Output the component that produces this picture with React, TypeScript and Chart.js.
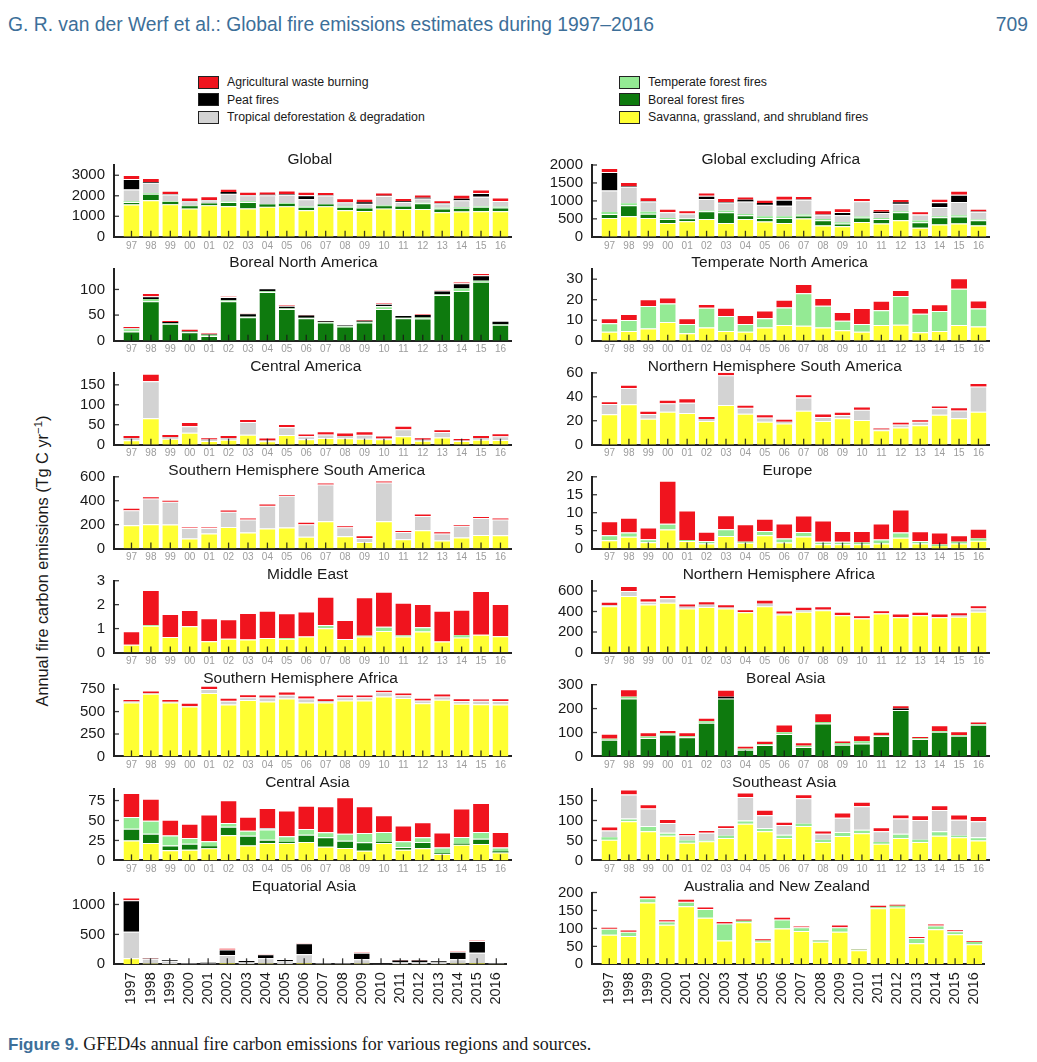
import React, { useEffect, useRef } from "react";
import { Chart, registerables } from "chart.js";
Chart.register(...registerables);

const YEARS = [1997, 1998, 1999, 2000, 2001, 2002, 2003, 2004, 2005, 2006, 2007, 2008, 2009, 2010, 2011, 2012, 2013, 2014, 2015, 2016];

// ---- Global ----
const GLO_SAV = [1570, 1780, 1590, 1380, 1540, 1490, 1380, 1460, 1490, 1300, 1490, 1300, 1260, 1380, 1350, 1350, 1200, 1230, 1250, 1250];
const GLO_BOR = [130, 320, 110, 110, 80, 210, 320, 110, 110, 160, 80, 160, 110, 110, 110, 280, 180, 190, 210, 180];
const GLO_TEM = [30, 30, 20, 20, 20, 20, 30, 30, 30, 30, 30, 30, 30, 30, 30, 30, 40, 30, 30, 30];
const GLO_TROP = [570, 510, 340, 220, 140, 380, 290, 420, 420, 340, 410, 200, 210, 470, 210, 210, 200, 330, 460, 280];
const GLO_PEAT = [520, 30, 10, 10, 10, 80, 20, 30, 20, 190, 10, 10, 80, 10, 30, 30, 10, 80, 190, 10];
const GLO_AGRI = [190, 200, 180, 180, 190, 160, 160, 160, 190, 180, 160, 180, 160, 160, 160, 160, 150, 190, 160, 160];

// ---- Global excluding Africa ----
const GEA_SAV = [525, 570, 525, 387, 433, 498, 387, 498, 424, 387, 507, 313, 295, 415, 369, 461, 249, 341, 369, 313];
const GEA_BOR = [110, 310, 120, 110, 83, 212, 295, 101, 101, 138, 83, 147, 74, 120, 129, 221, 157, 203, 194, 147];
const GEA_TEM = [55, 55, 55, 28, 10, 20, 46, 37, 46, 46, 28, 37, 37, 28, 28, 28, 46, 28, 37, 20];
const GEA_TROP = [600, 460, 285, 157, 120, 323, 230, 350, 323, 295, 415, 120, 194, 424, 138, 212, 166, 258, 369, 221];
const GEA_PEAT = [516, 10, 5, 5, 5, 92, 10, 46, 46, 166, 5, 5, 92, 5, 37, 37, 5, 129, 203, 5];
const GEA_AGRI = [110, 120, 110, 92, 92, 92, 110, 92, 92, 110, 101, 120, 101, 92, 74, 92, 92, 101, 110, 74];

// ---- Boreal North America ----
const BNA_BOR = [18, 77, 33, 16.5, 9, 77, 46, 95, 62, 44, 35.5, 27.6, 35.5, 62, 44, 43.4, 89, 97, 115, 31];
const BNA_TEM = [6.5, 4.6, 1.3, 1, 2.6, 1.5, 1, 1.3, 1, 1, 1, 1, 1.3, 5, 1, 2, 1, 4.6, 2, 1.3];
const BNA_PEAT = [0.5, 5.3, 2, 1, 1, 6.6, 6.6, 4, 5, 4, 1.5, 1, 2, 5, 3, 4.6, 8, 10.5, 10.5, 4.6];
const BNA_AGRI = [2, 4, 2, 3, 1.3, 0.5, 0.5, 0.3, 1, 0.5, 0.3, 0.3, 1, 1, 0.3, 1, 0.3, 1.3, 2.6, 0.3];

// ---- Temperate North America ----
const TNA_SAV = [4.4, 4.7, 6, 9.1, 3.6, 6.5, 4.7, 4.4, 6.5, 7.7, 7.3, 6.4, 5.1, 4.4, 7.7, 7.8, 4.1, 4.7, 7.7, 6.9];
const TNA_TEM = [4.1, 5.4, 10.9, 9.1, 4.6, 9.6, 7.3, 3.8, 4.4, 8.5, 15.8, 10.6, 4.7, 3.8, 7.2, 14, 9, 9.8, 17.6, 8.8];
const TNA_AGRI = [2.4, 2.9, 3.3, 2.9, 2.8, 1.8, 4.1, 4.4, 3.8, 3.8, 4.6, 3.8, 4.2, 7.7, 4.6, 2.9, 2.8, 3.3, 5.2, 3.9];

// ---- Central America ----
const CAM_SAV = [11, 66, 15, 30, 9, 12, 25, 8.4, 24.5, 13.5, 17, 16, 15, 13.5, 21, 10, 17.7, 9, 12.6, 11.8];
const CAM_TROP = [6, 93, 4, 16, 4, 5, 32, 2, 19.4, 7.6, 8.4, 6, 10, 1.7, 17.7, 2.5, 14.3, 1.7, 4.2, 9.3];
const CAM_AGRI = [5, 18.5, 5, 11, 3, 5, 7.6, 5, 7.6, 6.7, 6, 6, 6, 5, 6, 3.4, 6.7, 3.4, 5, 5];

// ---- Northern Hemisphere South America ----
const NHSA_SAV = [25.4, 33.8, 21.7, 27.6, 26.5, 19.7, 33.2, 25.9, 19.2, 17.7, 28.4, 19.7, 22, 20.6, 12.1, 14.4, 16.3, 25, 22, 27.6];
const NHSA_TROP = [8.5, 13.5, 3.9, 7, 8.5, 1.7, 24.8, 5, 3.4, 1.4, 11, 3.4, 2.8, 8.5, 0.5, 2.5, 2.8, 5.4, 6.5, 21.1];
const NHSA_AGRI = [2.3, 2.8, 2, 2, 3.7, 1.7, 2, 1.7, 2, 1.7, 2.8, 2, 2.8, 2, 0.8, 1.4, 1.4, 2.3, 2, 2];

// ---- Southern Hemisphere South America ----
const SHSA_SAV = [195, 204, 201, 84, 126, 181, 134, 167, 176, 98, 229, 103, 56, 229, 78, 153, 67, 92, 114, 112];
const SHSA_TROP = [126, 215, 190, 89, 47, 126, 109, 190, 265, 106, 307, 75, 33, 324, 61, 120, 59, 98, 142, 131];
const SHSA_AGRI = [11, 11, 8, 3, 3, 11, 8, 11, 6, 11, 8, 8, 14, 8, 8, 11, 11, 8, 8, 8];

// ---- Europe ----
const EUR_SAV = [2.3, 3.3, 1.8, 5.3, 2.1, 1.4, 3.5, 1.6, 3.7, 1.7, 3.4, 1.2, 1.2, 1.2, 1.4, 3, 1.4, 0.65, 1.4, 2.2];
const EUR_TEM = [1.4, 1.2, 0.8, 1.6, 0.3, 0.7, 1.9, 0.3, 1.2, 1.1, 1.2, 0.7, 0.7, 0.5, 1.1, 1.5, 0.7, 0.5, 0.5, 0.6];
const EUR_AGRI = [3.9, 4.1, 3.3, 12, 8.2, 2.6, 3.9, 4.9, 3.4, 4.2, 4.6, 5.9, 3, 3.2, 4.5, 6.4, 2.7, 3.3, 1.8, 2.7];

// ---- Middle East ----
const MDE_SAV = [0.32, 1.12, 0.65, 1.1, 0.47, 0.58, 0.54, 0.61, 0.58, 0.67, 1.01, 0.57, 0.67, 0.9, 0.67, 0.875, 0.46, 0.625, 0.74, 0.68];
const MDE_TEM = [0, 0.03, 0, 0, 0, 0, 0, 0, 0.03, 0, 0.14, 0, 0.03, 0.18, 0.04, 0.18, 0, 0.1, 0, 0];
const MDE_AGRI = [0.57, 1.46, 0.96, 0.68, 0.96, 0.81, 1.11, 1.14, 1.03, 1.04, 1.18, 0.79, 1.61, 1.46, 1.37, 0.97, 1.29, 1.06, 1.83, 1.35];

// ---- Northern Hemisphere Africa ----
const NHAF_SAV = [452, 551, 469, 485, 430, 443, 430, 393, 452, 370, 397, 413, 364, 331, 380, 344, 364, 344, 348, 397];
const NHAF_TROP = [10, 49, 26, 43, 16, 23, 10, 3, 23, 7, 16, 3, 3, 3, 3, 3, 3, 3, 13, 33];
const NHAF_AGRI = [33, 49, 33, 33, 33, 33, 20, 26, 39, 33, 33, 36, 30, 30, 30, 23, 30, 23, 23, 30];

// ---- Southern Hemisphere Africa ----
const SHAF_SAV = [602, 698, 602, 557, 706, 580, 628, 613, 646, 602, 602, 624, 624, 669, 650, 594, 632, 587, 583, 580];
const SHAF_TROP = [11, 7, 7, 4, 45, 41, 33, 45, 41, 45, 15, 37, 37, 45, 33, 30, 37, 30, 37, 37];
const SHAF_AGRI = [15, 19, 19, 26, 26, 22, 22, 22, 26, 22, 19, 19, 19, 19, 19, 19, 22, 19, 15, 19];

// ---- Boreal Asia ----
const BAS_BOR = [70, 242, 77, 92, 80, 141, 242, 28, 48, 94, 39, 138, 49, 54, 85, 194, 73, 103, 87, 132];
const BAS_TEM = [4, 7, 6, 4, 4, 6, 0, 4, 3, 7, 6, 6, 7, 10, 3, 0, 3, 3, 3, 3];
const BAS_PEAT = [0, 0, 0, 0, 0, 0, 7, 0, 0, 0, 0, 0, 0, 0, 0, 6, 0, 0, 0, 0];
const BAS_AGRI = [21, 32, 18, 14, 17, 15, 30, 13, 15, 32, 14, 37, 11, 25, 15, 14, 5, 24, 15, 11];

// ---- Central Asia ----
const CAS_SAV = [25, 21.8, 12.6, 13.4, 15.1, 31.4, 18.8, 21.8, 21.8, 23, 17.2, 15.5, 12.1, 21.8, 13.4, 15.1, 8, 19.7, 20.5, 10];
const CAS_BOR = [14.7, 11.7, 5.9, 7.5, 2.5, 10.9, 12.1, 4.2, 1.7, 9.2, 11.7, 9.2, 10.5, 1.7, 3.4, 8, 0.8, 1.3, 6.7, 1.3];
const CAS_TEM = [14.7, 16.3, 12.6, 7.1, 6.3, 4.6, 6.3, 12.6, 6.7, 7.1, 6.3, 8.8, 11.7, 12.1, 7.1, 5.9, 7.5, 8.4, 8.4, 5];
const CAS_TROP = [0, 0, 0, 0, 0, 0, 0, 2, 0, 0, 0, 0, 0, 0, 0, 0, 0, 0, 0, 0];
const CAS_AGRI = [30, 27.6, 19.7, 18, 33.5, 28.5, 17.6, 25, 32.2, 29.3, 32.7, 45.6, 33.5, 20.9, 19.7, 18.8, 18.8, 35.6, 36.4, 19.3];

// ---- Southeast Asia ----
const SEA_SAV = [52, 98, 73, 62, 44, 48, 56, 92, 73, 56, 86, 46, 61, 68, 42, 56, 46, 62, 58, 50];
const SEA_TEM = [6, 7, 13, 7, 6, 2, 6, 8, 8, 8, 6, 6, 10, 9, 4, 11, 6, 11, 4, 8];
const SEA_TROP = [17, 60, 44, 25, 13, 19, 19, 59, 32, 25, 64, 15, 36, 59, 27, 38, 49, 53, 40, 40];
const SEA_AGRI = [10, 13, 11, 10, 3, 7, 7, 11, 14, 8, 10, 8, 13, 11, 10, 10, 12, 12, 13, 13];

// ---- Equatorial Asia ----
const EQA_SAV = [100, 8, 5, 3, 3, 15, 5, 10, 5, 15, 5, 5, 10, 2, 5, 5, 5, 10, 15, 5];
const EQA_TROP = [444, 85, 55, 10, 10, 140, 30, 90, 45, 152, 10, 10, 75, 3, 35, 35, 30, 73, 180, 10];
const EQA_PEAT = [528, 5, 10, 2, 12, 94, 20, 67, 20, 183, 0, 0, 110, 0, 25, 25, 15, 128, 194, 5];
const EQA_AGRI = [28, 5, 2, 0, 0, 10, 0, 5, 3, 5, 0, 0, 3, 0, 2, 2, 0, 3, 5, 0];

// ---- Australia and New Zealand ----
const ANZ_SAV = [82, 79, 172, 110, 162, 130, 66, 117, 63, 100, 93, 63, 91, 39, 156, 158, 59, 98, 84, 56];
const ANZ_TEM = [17, 12, 12, 9, 12, 24, 48, 4, 3, 25, 10, 3, 12, 2, 3, 5, 14, 10, 8, 6];
const ANZ_AGRI = [3, 3, 5, 4, 6, 4, 4, 4, 4, 5, 2, 1, 5, 1, 4, 3, 3, 3, 3, 2];

// stacking order, bottom to top
const SERIES = [
  { key: "sav", label: "Savanna, grassland, and shrubland fires", color: "#ffff33" },
  { key: "bor", label: "Boreal forest fires", color: "#0e7a0e" },
  { key: "tem", label: "Temperate forest fires", color: "#94ea94" },
  { key: "trop", label: "Tropical deforestation & degradation", color: "#d3d3d3" },
  { key: "peat", label: "Peat fires", color: "#000000" },
  { key: "agri", label: "Agricultural waste burning", color: "#f0141e" },
];

type PanelDef = { title: string; col: number; row: number; max: number; step: number; data: Record<string, number[]> };

const PANELS: PanelDef[] = [
  { title: "Global", col: 0, row: 0, max: 3500, step: 1000, data: { sav: GLO_SAV, bor: GLO_BOR, tem: GLO_TEM, trop: GLO_TROP, peat: GLO_PEAT, agri: GLO_AGRI } },
  { title: "Boreal North America", col: 0, row: 1, max: 140, step: 50, data: { bor: BNA_BOR, tem: BNA_TEM, peat: BNA_PEAT, agri: BNA_AGRI } },
  { title: "Central America", col: 0, row: 2, max: 180, step: 50, data: { sav: CAM_SAV, trop: CAM_TROP, agri: CAM_AGRI } },
  { title: "Southern Hemisphere South America", col: 0, row: 3, max: 600, step: 200, data: { sav: SHSA_SAV, trop: SHSA_TROP, agri: SHSA_AGRI } },
  { title: "Middle East", col: 0, row: 4, max: 3, step: 1, data: { sav: MDE_SAV, tem: MDE_TEM, agri: MDE_AGRI } },
  { title: "Southern Hemisphere Africa", col: 0, row: 5, max: 800, step: 250, data: { sav: SHAF_SAV, trop: SHAF_TROP, agri: SHAF_AGRI } },
  { title: "Central Asia", col: 0, row: 6, max: 90, step: 25, data: { sav: CAS_SAV, bor: CAS_BOR, tem: CAS_TEM, trop: CAS_TROP, agri: CAS_AGRI } },
  { title: "Equatorial Asia", col: 0, row: 7, max: 1200, step: 500, data: { sav: EQA_SAV, trop: EQA_TROP, peat: EQA_PEAT, agri: EQA_AGRI } },
  { title: "Global excluding Africa", col: 1, row: 0, max: 2000, step: 500, data: { sav: GEA_SAV, bor: GEA_BOR, tem: GEA_TEM, trop: GEA_TROP, peat: GEA_PEAT, agri: GEA_AGRI } },
  { title: "Temperate North America", col: 1, row: 1, max: 35, step: 10, data: { sav: TNA_SAV, tem: TNA_TEM, agri: TNA_AGRI } },
  { title: "Northern Hemisphere South America", col: 1, row: 2, max: 60, step: 20, data: { sav: NHSA_SAV, trop: NHSA_TROP, agri: NHSA_AGRI } },
  { title: "Europe", col: 1, row: 3, max: 20, step: 5, data: { sav: EUR_SAV, tem: EUR_TEM, agri: EUR_AGRI } },
  { title: "Northern Hemisphere Africa", col: 1, row: 4, max: 700, step: 200, data: { sav: NHAF_SAV, trop: NHAF_TROP, agri: NHAF_AGRI } },
  { title: "Boreal Asia", col: 1, row: 5, max: 300, step: 100, data: { bor: BAS_BOR, tem: BAS_TEM, peat: BAS_PEAT, agri: BAS_AGRI } },
  { title: "Southeast Asia", col: 1, row: 6, max: 180, step: 50, data: { sav: SEA_SAV, tem: SEA_TEM, trop: SEA_TROP, agri: SEA_AGRI } },
  { title: "Australia and New Zealand", col: 1, row: 7, max: 200, step: 50, data: { sav: ANZ_SAV, tem: ANZ_TEM, agri: ANZ_AGRI } },
];

// ---- layout ----
const SANS = '"Liberation Sans", Arial, Helvetica, sans-serif';
const SERIF = '"Liberation Serif", "Times New Roman", Times, serif';
const BLUE = "#3d6f99";
const PH = 71.8; // plot height
const zeroY = (r: number) => 236.8 + 103.93 * r;
const AXIS_X = [114, 592];
const YW = 62;
const X_MIN = 1997 - 0.9;
const X_MAX = 2016 + 0.55;
const CA_W = (X_MAX - X_MIN) * 19.42;
const CW = 470;
const TOP_SPACE = 26;

const decorPlugin = {
  id: "decor",
  afterDatasetsDraw(chart: any) {
    const { ctx, chartArea: ca, scales } = chart;
    const x = scales.x;
    const y = scales.y;
    ctx.save();
    ctx.strokeStyle = "rgba(25,25,25,0.85)";
    ctx.lineWidth = 1.3;
    for (const yr of YEARS) {
      const px = x.getPixelForValue(yr);
      ctx.beginPath();
      ctx.moveTo(px, ca.bottom);
      ctx.lineTo(px, ca.bottom - 6);
      ctx.stroke();
    }
    for (const t of y.ticks) {
      if (t.value === 0) continue;
      const py = y.getPixelForValue(t.value);
      ctx.beginPath();
      ctx.moveTo(ca.left, py);
      ctx.lineTo(ca.left + 5, py);
      ctx.stroke();
    }
    ctx.restore();
  },
  afterDraw(chart: any) {
    const { ctx, chartArea: ca } = chart;
    const title = chart.options.plugins.decor.title;
    ctx.save();
    ctx.font = `15.5px ${SANS}`;
    ctx.fillStyle = "#1a1a1a";
    ctx.textBaseline = "alphabetic";
    ctx.textAlign = "left";
    const w = ctx.measureText(title).width;
    const cx = (ca.left + ca.right) / 2;
    ctx.fillText(title, cx - w / (2 * 0.89), ca.top - 1.5);
    ctx.restore();
  },
};

function Panel({ p }: { p: PanelDef }) {
  const ref = useRef<HTMLCanvasElement>(null);
  const bottom = p.row === 7;
  const z = zeroY(p.row);
  const canvasTop = Math.round(z - PH - TOP_SPACE);
  const padTop = z - PH - canvasTop;
  const CH = Math.ceil(padTop + PH + (bottom ? 50 : 20));
  const HB = CH - padTop - PH;
  const left = AXIS_X[p.col] - YW;

  useEffect(() => {
    const datasets = SERIES.filter((s) => p.data[s.key]).map((s) => ({
      label: s.label,
      data: YEARS.map((yr, i) => ({ x: yr, y: p.data[s.key][i] })),
      backgroundColor: s.color,
      borderColor: "#ffffff",
      borderSkipped: false as any,
      borderWidth: (c: any) => {
        const v = c.raw && typeof c.raw.y === "number" ? c.raw.y : 0;
        return (v / p.max) * PH > 2.5 ? { top: 1, right: 0, bottom: 0, left: 0 } : 0;
      },
      barPercentage: 0.82,
      categoryPercentage: 1,
      stack: "s",
    }));
    const yTicks: number[] = [];
    for (let v = 0; v <= p.max + 1e-9; v += p.step) yTicks.push(Math.round(v * 1000) / 1000);

    const chart = new Chart(ref.current!, {
      type: "bar",
      data: { datasets } as any,
      options: {
        animation: false,
        responsive: false,
        devicePixelRatio: 1,
        events: [],
        layout: { padding: { top: padTop, left: 0, right: CW - YW - CA_W, bottom: 0 } },
        plugins: {
          legend: { display: false },
          tooltip: { enabled: false },
          decor: { title: p.title },
        } as any,
        scales: {
          x: {
            type: "linear",
            min: X_MIN,
            max: X_MAX,
            offset: false,
            stacked: true,
            z: 1,
            afterBuildTicks: (s: any) => {
              s.ticks = YEARS.map((v) => ({ value: v }));
            },
            afterFit: (s: any) => {
              s.height = HB;
            },
            grid: { display: false, drawTicks: false, tickLength: 0 },
            border: { display: true, color: "#222222", width: 2 },
            ticks: {
              autoSkip: false,
              minRotation: bottom ? 90 : 0,
              maxRotation: bottom ? 90 : 0,
              padding: bottom ? 8 : 3,
              color: bottom ? "#1a1a1a" : "#9c9c9c",
              font: { family: SANS, size: bottom ? 14.5 : 10 },
              callback: (v: any) => (bottom ? String(v) : String(v).slice(2)),
            },
          },
          y: {
            type: "linear",
            min: 0,
            max: p.max,
            stacked: true,
            afterBuildTicks: (s: any) => {
              s.ticks = yTicks.map((v) => ({ value: v }));
            },
            afterFit: (s: any) => {
              s.width = YW;
            },
            grid: { display: false, drawTicks: false, tickLength: 0 },
            border: { display: true, color: "#222222", width: 2 },
            ticks: {
              autoSkip: false,
              padding: 9,
              color: "#1a1a1a",
              font: { family: SANS, size: 15 },
              callback: (v: any) => String(v),
            },
          },
        },
      } as any,
      plugins: [decorPlugin as any],
    });
    return () => chart.destroy();
  }, []);

  return (
    <canvas
      ref={ref}
      width={CW}
      height={CH}
      style={{ position: "absolute", left, top: canvasTop, width: CW, height: CH }}
    />
  );
}

const LEGEND_LEFT = ["agri", "peat", "trop"];
const LEGEND_RIGHT = ["tem", "bor", "sav"];
const LEGEND_ROWS_Y = [82, 99.5, 117];

function LegendItem({ k, x, y }: { k: string; x: number; y: number }) {
  const s = SERIES.find((q) => q.key === k)!;
  return (
    <>
      <div
        style={{
          position: "absolute",
          left: x,
          top: y - 6.5,
          width: 21,
          height: 13,
          boxSizing: "border-box",
          border: "1.5px solid #222",
          background: s.color,
        }}
      />
      <div
        style={{
          position: "absolute",
          left: x + 29,
          top: y - 8,
          height: 16,
          lineHeight: "16px",
          fontFamily: SANS,
          fontSize: 12.3,
          color: "#1a1a1a",
          whiteSpace: "nowrap",
        }}
      >
        {s.label}
      </div>
    </>
  );
}

export default function App() {
  return (
    <div style={{ position: "absolute", left: 0, top: 0, width: 1037, height: 1062, background: "#fff", overflow: "hidden" }}>
      <div
        style={{
          position: "absolute",
          left: 8,
          top: 13,
          lineHeight: "24px",
          fontFamily: SANS,
          fontSize: 19.3,
          color: BLUE,
          whiteSpace: "nowrap",
        }}
      >
        G. R. van der Werf et al.: Global fire emissions estimates during 1997–2016
      </div>
      <div
        style={{
          position: "absolute",
          left: 950,
          width: 78,
          top: 13,
          lineHeight: "24px",
          textAlign: "right",
          fontFamily: SANS,
          fontSize: 19.3,
          color: BLUE,
        }}
      >
        709
      </div>

      {LEGEND_LEFT.map((k, i) => (
        <LegendItem key={k} k={k} x={198} y={LEGEND_ROWS_Y[i]} />
      ))}
      {LEGEND_RIGHT.map((k, i) => (
        <LegendItem key={k} k={k} x={619} y={LEGEND_ROWS_Y[i]} />
      ))}

      <div
        style={{
          position: "absolute",
          left: 42 - 170,
          top: 561 - 11,
          width: 340,
          height: 22,
          lineHeight: "22px",
          textAlign: "center",
          transform: "rotate(-90deg)",
          fontFamily: SANS,
          fontSize: 16.3,
          color: "#1a1a1a",
          whiteSpace: "nowrap",
        }}
      >
        Annual fire carbon emissions (Tg C yr
        <sup style={{ fontSize: "70%", lineHeight: 0, verticalAlign: "super" }}>−1</sup>)
      </div>

      {PANELS.map((p) => (
        <Panel key={p.title} p={p} />
      ))}

      <div
        style={{
          position: "absolute",
          left: 8,
          top: 1033,
          lineHeight: "22px",
          whiteSpace: "nowrap",
        }}
      >
        <span style={{ fontFamily: SANS, fontWeight: "bold", color: BLUE, fontSize: 17 }}>Figure 9.</span>
        <span style={{ fontFamily: SERIF, color: "#1a1a1a", fontSize: 18 }}> GFED4s annual fire carbon emissions for various regions and sources.</span>
      </div>
    </div>
  );
}
